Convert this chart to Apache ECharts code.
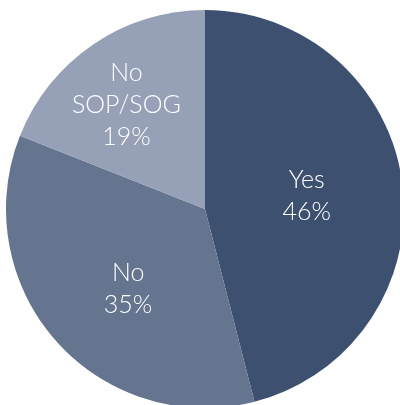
<!DOCTYPE html>
<html>
<head>
<meta charset="utf-8">
<script src="https://cdn.jsdelivr.net/npm/echarts@6/dist/echarts.min.js"></script>
<style>
	html,body{margin:0;padding:0;background:#fff;}
	#chart{width:400px;height:405px;}
</style>
</head>
<body>
<div id="chart"></div>
<script>
	// data
	var names = ['Yes', 'No', 'No\nSOP/SOG'];
	var values = [46, 35, 19];
	var colors = ['#3d5070', '#65748f', '#96a1b8'];
	// nudges for the label blocks
	var labelOffsets = [[0, 0], [0, 12], [-21, -19]];

	var chart = echarts.init(document.getElementById('chart'));

	var pieData = names.map(function (n, i) {
		return {
			name: n,
			value: values[i],
			itemStyle: { color: colors[i] },
			label: { offset: labelOffsets[i] }
		};
	});

	chart.setOption({
		animation: false,
		series: [{
			type: 'pie',
			center: [205, 209],
			radius: 199,
			startAngle: 90,
			clockwise: true,
			itemStyle: { borderWidth: 0 },
			label: {
				show: true,
				position: 'inside',
				formatter: '{b}\n{c}%',
				color: '#ffffff',
				fontFamily: 'Lato',
				fontWeight: 300,
				fontSize: 25,
				lineHeight: 32
			},
			labelLine: { show: false },
			emphasis: { disabled: true },
			data: pieData
		}]
	});
</script>
</body>
</html>
